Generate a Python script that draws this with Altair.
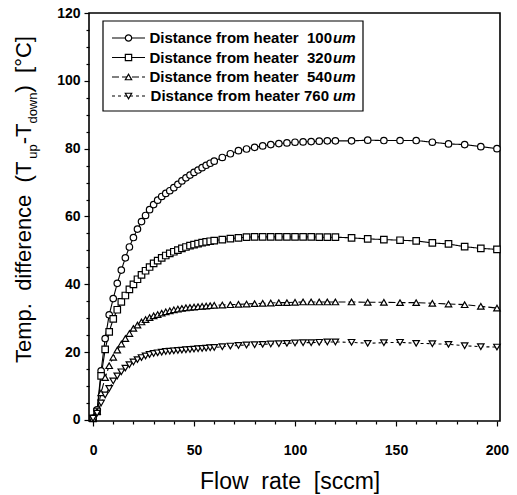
import altair as alt
import pandas as pd

# ---------------- data ----------------
flow = [0, 2, 4, 6, 8, 10, 12, 14, 16, 18, 20, 22, 24, 26, 28, 30, 32, 34, 36, 38,
        40, 42, 44, 46, 48, 50, 52, 54, 56, 58, 60, 64, 68, 72, 76, 80, 84, 88, 92, 96,
        100, 104, 108, 112, 116, 120, 128, 136, 144, 152, 160, 168, 176, 184, 192, 200]

t100 = [0.5, 3.0, 14.5, 24.0, 31.0, 35.8, 40.3, 44.2, 47.8, 51.0, 53.8, 56.3, 58.5, 60.3, 62.0, 63.5, 64.8, 65.9, 66.8, 67.6,
        68.5, 69.5, 70.5, 71.4, 72.2, 73.0, 73.7, 74.4, 75.1, 75.7, 76.3, 77.4, 78.5, 79.4, 79.9, 80.4, 80.8, 81.2, 81.5, 81.7,
        81.9, 82.0, 82.1, 82.2, 82.3, 82.3, 82.3, 82.5, 82.4, 82.4, 82.4, 81.9, 81.4, 81.2, 80.6, 80.0]

t320 = [0.5, 2.5, 13.0, 20.8, 26.0, 29.8, 32.5, 34.8, 36.7, 38.5, 40.0, 41.5, 42.8, 44.0, 45.1, 46.2, 47.0, 47.8, 48.5, 49.1,
        49.6, 50.1, 50.6, 51.0, 51.4, 51.7, 52.0, 52.3, 52.5, 52.7, 52.9, 53.2, 53.5, 53.7, 53.9, 54.0, 54.0, 54.0, 54.0, 54.0,
        54.0, 54.0, 54.0, 53.9, 53.9, 53.9, 53.7, 53.4, 53.2, 53.0, 52.8, 52.2, 51.9, 51.1, 50.6, 50.3]

t540 = [0.5, 2.5, 8.0, 12.5, 16.0, 18.5, 20.6, 22.4, 24.0, 25.5, 27.0, 28.0, 28.9, 29.6, 30.2, 30.7, 31.1, 31.5, 31.9, 32.2,
        32.5, 32.7, 32.9, 33.1, 33.2, 33.3, 33.4, 33.5, 33.6, 33.7, 33.8, 33.9, 34.0, 34.1, 34.2, 34.3, 34.4, 34.5, 34.6, 34.6,
        34.7, 34.8, 34.8, 34.8, 34.8, 34.8, 34.8, 34.7, 34.7, 34.6, 34.6, 34.4, 34.2, 34.0, 33.5, 33.0]

t760 = [0.5, 2.0, 5.0, 7.4, 9.3, 11.5, 13.0, 14.2, 15.3, 16.3, 17.1, 17.8, 18.4, 18.9, 19.3, 19.6, 19.8, 20.0, 20.2, 20.3,
        20.4, 20.5, 20.6, 20.7, 20.8, 20.9, 21.0, 21.1, 21.2, 21.3, 21.4, 21.6, 21.8, 22.0, 22.1, 22.2, 22.3, 22.4, 22.5, 22.6,
        22.7, 22.8, 22.8, 22.9, 23.0, 23.0, 22.9, 22.6, 22.8, 22.9, 22.6, 22.5, 22.3, 21.9, 21.6, 21.5]

series = ["100um", "320um", "540um", "760 um"]
legend_main = ["Distance from heater\u00a0\u00a0100", "Distance from heater\u00a0\u00a0320",
               "Distance from heater\u00a0\u00a0540", "Distance from heater 760"]
shapes = ["circle", "square", "triangle-up", "triangle-down"]
dashes = [[1, 0], [1, 0], [7, 3], [3, 3]]

y_ticks = [0, 5, 10, 15, 20, 25, 30, 35, 40, 45, 50, 55, 60, 65, 70, 75, 80, 85, 90, 95, 100, 105, 110, 115, 120]
x_ticks = [0, 10, 20, 30, 40, 50, 60, 70, 80, 90, 100, 110, 120, 130, 140, 150, 160, 170, 180, 190, 200]

# ---------------- tables ----------------
rows = []
for name, vals in zip(series, [t100, t320, t540, t760]):
    for f, v in zip(flow, vals):
        rows.append({"flow": f, "dt": v, "series": name})
df = pd.DataFrame(rows)

FONT = "Liberation Sans, Arial, Helvetica, sans-serif"

# legend rows (pixel layout inside the plot area)
leg_y = [25, 44.5, 64, 83]
leg_mx = [243, 243, 243, 240]
leg_df = pd.DataFrame({"series": series, "main": legend_main, "ly": leg_y, "mx": leg_mx,
                       "ux": [244, 244, 244, 244]})

# y title pieces, laid out bottom-to-top (rotated text)
W = {'T': .611, 'e': .556, 'm': .833, 'p': .556, '.': .278, ' ': .278, '\u00a0': .278,
     'd': .556, 'i': .222, 'f': .278, 'r': .333, 'n': .556, 'c': .5, '(': .333, ')': .333,
     'u': .556, '-': .333, 'o': .556, 'w': .722, '[': .278, ']': .278, '\u00b0': .4, 'C': .722}


def tw(s, fs):
    return sum(W[c] for c in s) * fs


MAIN_FS, SUB_FS = 22, 13
pieces = [("Temp.\u00a0\u00a0difference\u00a0\u00a0(T", "m"), ("up", "s"), ("-T", "m"),
          ("down", "s"), (")\u00a0\u00a0[\u00b0C]", "m")]
cur = 350.0
ytitle_rows = []
for txt, kind in pieces:
    fs = MAIN_FS if kind == "m" else SUB_FS
    px = -58 if kind == "m" else -52.5
    ytitle_rows.append({"txt": txt, "px": px, "py": cur, "fs": fs})
    cur -= tw(txt, fs)
ytitle_df = pd.DataFrame(ytitle_rows)

one = pd.DataFrame({"k": [0]})

# ---------------- scales / axes ----------------
xs = alt.Scale(domain=[-2, 201.5], nice=False, zero=False)
ys = alt.Scale(domain=[-0.3, 120], nice=False, zero=False)
shape_scale = alt.Scale(domain=series, range=shapes)
dash_scale = alt.Scale(domain=series, range=dashes)

x_axis = alt.Axis(values=x_ticks, title=None, grid=False, domain=False,
                  labelExpr="datum.value % 50 === 0 ? datum.label : ''",
                  tickSize={"condition": {"test": "datum.value % 50 !== 0", "value": 3}, "value": 5},
                  tickColor="black", tickWidth=1.2, labelFont=FONT, labelFontWeight="bold",
                  labelFontSize=14, labelColor="black", labelPadding=17, labelFlush=False)
y_axis = alt.Axis(values=y_ticks, title=None, grid=False, domain=False,
                  labelExpr="datum.value % 20 === 0 ? datum.label : ''",
                  tickSize={"condition": {"test": "datum.value % 20 !== 0", "value": 3}, "value": 5},
                  tickColor="black", tickWidth=1.2, labelFont=FONT, labelFontWeight="bold",
                  labelFontSize=14, labelColor="black", labelPadding=4, labelFlush=False)

X = alt.X("flow:Q", scale=xs, axis=x_axis)
Y = alt.Y("dt:Q", scale=ys, axis=y_axis)

lines = alt.Chart(df).mark_line(color="black", strokeWidth=1.1).encode(
    x=X, y=Y,
    strokeDash=alt.StrokeDash("series:N", scale=dash_scale, legend=None),
    detail="series:N",
    order="flow:Q",
)

points = alt.Chart(df).mark_point(size=42, fill="white", stroke="black", strokeWidth=1.2,
                                  opacity=1, fillOpacity=1).encode(
    x=X, y=Y,
    shape=alt.Shape("series:N", scale=shape_scale, legend=None),
)

# ---------------- legend (manual, inside plot) ----------------
leg_box = alt.Chart(one).mark_rect(fill="white", stroke="black", strokeWidth=1.2).encode(
    x=alt.value(14), x2=alt.value(274), y=alt.value(8), y2=alt.value(98)
)
leg_lines = alt.Chart(leg_df).mark_rule(color="black", strokeWidth=1.1).encode(
    x=alt.value(23), x2=alt.value(56),
    y=alt.Y("ly:Q", scale=None, axis=None),
    strokeDash=alt.StrokeDash("series:N", scale=dash_scale, legend=None),
)
leg_pts = alt.Chart(leg_df).mark_point(size=40, fill="white", stroke="black", strokeWidth=1.2,
                                       opacity=1, fillOpacity=1).encode(
    x=alt.value(39.5),
    y=alt.Y("ly:Q", scale=None, axis=None),
    shape=alt.Shape("series:N", scale=shape_scale, legend=None),
)
leg_text = alt.Chart(leg_df).mark_text(align="right", baseline="middle", font=FONT,
                                       fontWeight="bold", fontSize=15, color="black").encode(
    x=alt.X("mx:Q", scale=None, axis=None),
    y=alt.Y("ly:Q", scale=None, axis=None),
    text="main:N",
)
leg_unit = alt.Chart(leg_df).mark_text(align="left", baseline="middle", font=FONT,
                                       fontWeight="bold", fontStyle="italic", fontSize=15,
                                       color="black").encode(
    x=alt.X("ux:Q", scale=None, axis=None),
    y=alt.Y("ly:Q", scale=None, axis=None),
    text=alt.value("um"),
)

# ---------------- axis titles ----------------
x_title = alt.Chart(one).mark_text(align="left", baseline="alphabetic", font=FONT,
                                   fontSize=23, color="black",
                                   text="Flow\u00a0\u00a0rate\u00a0\u00a0[sccm]").encode(
    x=alt.value(111), y=alt.value(476)
)
y_title = alt.Chart(ytitle_df).mark_text(align="left", baseline="alphabetic", font=FONT,
                                         angle=270, color="black").encode(
    x=alt.X("px:Q", scale=None, axis=None),
    y=alt.Y("py:Q", scale=None, axis=None),
    size=alt.Size("fs:Q", scale=None, legend=None),
    text="txt:N",
)

chart = alt.layer(lines, points, leg_box, leg_lines, leg_pts, leg_text, leg_unit,
                  x_title, y_title).properties(
    width=411, height=408,
    padding={"left": 89, "top": 13, "right": 17, "bottom": 74},
    autosize=alt.AutoSizeParams(type="none"),
    background="white",
).configure_view(stroke="black", strokeWidth=1.6)

chart.save("out.html", embed_options={"renderer": "svg", "actions": False})
